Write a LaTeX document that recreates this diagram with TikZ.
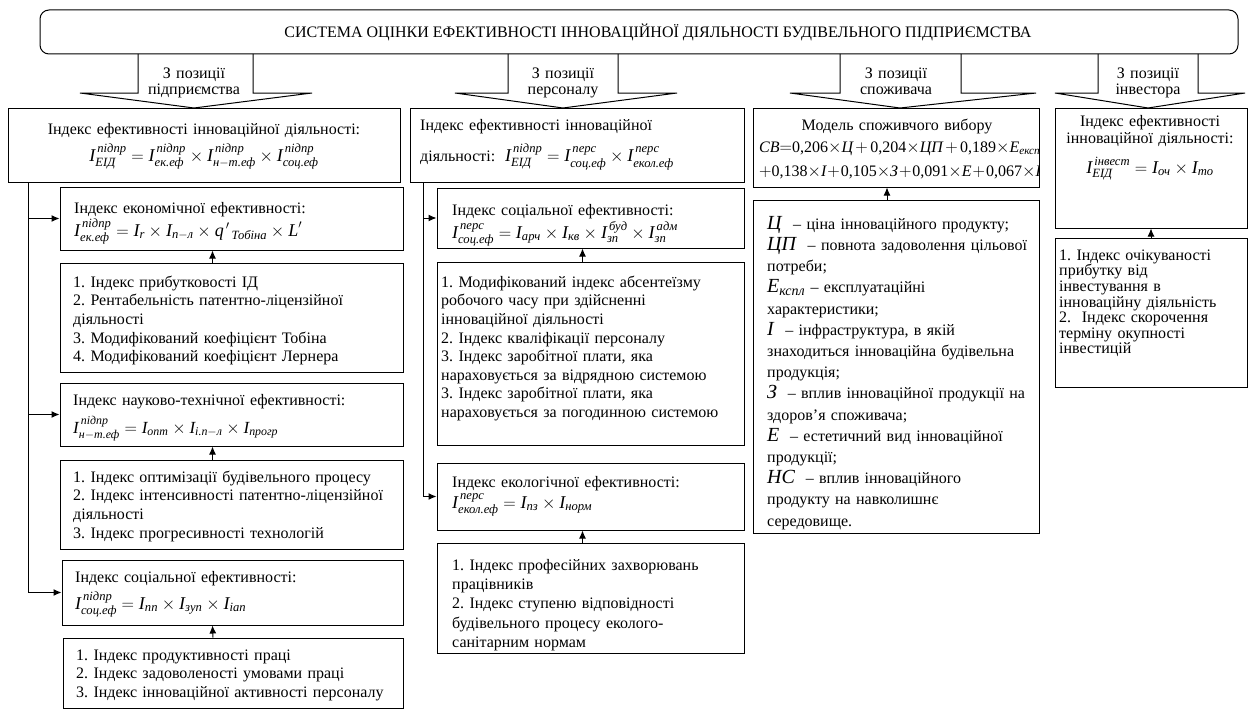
\documentclass[tikz,border=0pt]{standalone}
\usepackage{amsmath}
\usepackage{fontspec}
\setmainfont{Liberation Serif}
\usetikzlibrary{arrows.meta,fit,calc}
\newcommand{\myfs}{\fontsize{16}{18.6}\selectfont}
\newcommand{\myff}{\fontsize{18}{20}\selectfont}
\newcommand{\myfb}{\fontsize{20}{20}\selectfont}
\newcommand{\myfm}{\fontsize{16}{20}\selectfont}
\newcommand{\myti}[1]{\text{\itshape #1}}
\newcommand{\myI}{\textit{I}}
\newcommand{\mynm}[1]{\text{#1}}
\newcommand{\mypl}{\mskip2.5mu{+}\mskip2.5mu}
\newcommand{\mypn}{\mskip1mu{+}\mskip1mu}
\newcommand{\myst}{\noindent\rule{0pt}{14pt}}
\begin{document}
\frenchspacing
\begin{tikzpicture}[x=1pt,y=-1pt,
  frame/.style={draw, line width=1pt, inner sep=0pt},
  txt/.style={inner sep=0pt, anchor=north west, yshift=14pt, text width=330pt, align=left, font=\myfs, execute at begin node=\myst},
  ctxt/.style={inner sep=0pt, anchor=north, yshift=14pt, text width=420pt, align=center, font=\myfs, execute at begin node=\myst},
  atxt/.style={ctxt, font=\fontsize{16}{16.8}\selectfont},
  fml/.style={inner sep=0pt, anchor=base west, font=\myff},
  arr/.style={line width=1pt, -{Latex[length=8pt,width=7pt]}},
  blk/.style={line width=1pt, line join=miter}]
\useasboundingbox (0,0) rectangle (1248,709);
% title
\node[frame, rounded corners=9pt, fit={(40,10) (1238,54)}] (title) {};
\node[inner sep=0pt, font=\fontsize{16}{17}\selectfont] (titleT) at (658,32) {СИСТЕМА ОЦІНКИ ЕФЕКТИВНОСТІ ІННОВАЦІЙНОЇ ДІЯЛЬНОСТІ БУДІВЕЛЬНОГО ПІДПРИЄМСТВА};
% block arrows
\draw[blk] (138,54) -- (138,93) -- (80,93) -- (194,108) -- (312,93) -- (253,93) -- (253,54);
\node[atxt] (a1) at (194,78) {З позиції\\підприємства};
\draw[blk] (508,54) -- (508,93) -- (455,93) -- (563,108) -- (677,93) -- (618,93) -- (618,54);
\node[atxt] (a2) at (563,78) {З позиції\\персоналу};
\draw[blk] (840,54) -- (840,93) -- (790,93) -- (900,108) -- (1036,93) -- (961,93) -- (961,54);
\node[atxt] (a3) at (896,78) {З позиції\\споживача};
\draw[blk] (1098,54) -- (1098,93) -- (1055,93) -- (1148,108) -- (1245,93) -- (1198,93) -- (1198,54);
\node[atxt] (a4) at (1148,78) {З позиції\\інвестора};

% ---------- column 1
\node[frame, fit={(8,108) (400,182)}] (E0) {};
\node[ctxt] (E0t) at (204,134) {Індекс ефективності інноваційної діяльності:};
\node[fml, anchor=base] (E0f) at (204,161) {$\myI^{\,\myti{підпр}}_{\myti{ЕІД}} = \myI^{\,\myti{підпр}}_{\myti{ек.еф}} \times \myI^{\,\myti{підпр}}_{\myti{н}-\myti{т.еф}} \times \myI^{\,\myti{підпр}}_{\myti{соц.еф}}$};

\node[frame, fit={(60,187) (403,250)}] (econ) {};
\node[txt] (econt) at (74,213) {Індекс економічної ефективності:};
\node[fml] (econf) at (74,236) {$\myI^{\,\myti{підпр}}_{\myti{ек.еф}} = \myI_{\myti{r}} \times \myI_{\myti{п}-\myti{л}} \times \textit{q}^{\,\prime}{}_{\,\myti{Тобіна}} \times \textit{L}^{\prime}$};

\node[frame, fit={(60,263) (403,372)}] (econL) {};
\node[txt] (econLt) at (73,287) {1. Індекс прибутковості ІД\\2. Рентабельність патентно-ліцензійної\\діяльності\\3. Модифікований коефіцієнт Тобіна\\4. Модифікований коефіцієнт Лернера};

\node[frame, fit={(60,383) (403,446)}] (nt) {};
\node[txt] (ntt) at (73,405) {Індекс науково-технічної ефективності:};
\node[fml, font=\fontsize{17}{20}\selectfont] (ntf) at (73,433) {$\myI^{\,\myti{підпр}}_{\myti{н}-\myti{т.еф}} = \myI_{\myti{опт}} \times \myI_{\myti{і.п}-\myti{л}} \times \myI_{\myti{прогр}}$};

\node[frame, fit={(60,460) (403,549)}] (ntL) {};
\node[txt] (ntLt) at (73,482) {1. Індекс оптимізації будівельного процесу\\2. Індекс інтенсивності патентно-ліцензійної\\діяльності\\3. Індекс прогресивності технологій};

\node[frame, fit={(62,560) (403,625)}] (soc) {};
\node[txt] (soct) at (75,582) {Індекс соціальної ефективності:};
\node[fml] (socf) at (75,609) {$\myI^{\,\myti{підпр}}_{\myti{соц.еф}} = \myI_{\myti{пп}} \times \myI_{\myti{зуп}} \times \myI_{\myti{іап}}$};

\node[frame, fit={(63,638) (403,708)}] (socL) {};
\node[txt] (socLt) at (76,660) {1. Індекс продуктивності праці\\2. Індекс задоволеності умовами праці\\3. Індекс інноваційної активності персоналу};

\coordinate (j1) at ($(E0.south west)+(21,0)$);
\draw[arr] (j1) |- (econ.west);
\draw[arr] (j1) |- (nt.west);
\draw[arr] (j1) |- (soc.west);
\draw[arr] ($(econL.north)+(-19,0)$) -- ($(econ.south)+(-19,0)$);
\draw[arr] ($(ntL.north)+(-19,0)$) -- ($(nt.south)+(-19,0)$);
\draw[arr] ($(socL.north)+(-20,0)$) -- ($(soc.south)+(-20,0)$);

% ---------- column 2
\node[frame, fit={(410,108) (744,182)}] (P0) {};
\node[txt] (P0t) at (420,130) {Індекс ефективності інноваційної};
\node[txt] (P0b) at (420,158) {діяльності:\; {\myff$\myI^{\,\myti{підпр}}_{\myti{ЕІД}} = \myI^{\,\myti{перс}}_{\myti{соц.еф}} \times \myI^{\,\myti{перс}}_{\myti{екол.еф}}$}};

\node[frame, fit={(437,188) (744,248)}] (P1) {};
\node[txt] (P1t) at (452,215) {Індекс соціальної ефективності:};
\node[fml] (P1f) at (452,238) {$\myI^{\,\myti{перс}}_{\myti{соц.еф}} = \myI_{\myti{арч}} \times \myI_{\myti{кв}} \times \myI^{\,\myti{буд}}_{\myti{зп}} \times \myI^{\,\myti{адм}}_{\myti{зп}}$};

\node[frame, fit={(437,262) (744,445)}] (P1L) {};
\node[txt] (P1Lt) at (441,287) {1. Модифікований індекс абсентеїзму\\робочого часу при здійсненні\\інноваційної діяльності\\2. Індекс кваліфікації персоналу\\3. Індекс заробітної плати, яка\\нараховується за відрядною системою\\3. Індекс заробітної плати, яка\\нараховується за погодинною системою};

\node[frame, fit={(437,463) (744,530)}] (P2) {};
\node[txt] (P2t) at (452,487) {Індекс екологічної ефективності:};
\node[fml] (P2f) at (452,508) {$\myI^{\,\myti{перс}}_{\myti{екол.еф}} = \myI_{\myti{пз}} \times \myI_{\myti{норм}}$};

\node[frame, fit={(437,543) (744,653)}] (P2L) {};
\node[txt, font=\fontsize{16}{19.3}\selectfont] (P2Lt) at (452,570) {1. Індекс професійних захворювань\\працівників\\2. Індекс ступеню відповідності\\будівельного процесу еколого-\\санітарним нормам};

\coordinate (j2) at ($(P0.south west)+(14,0)$);
\draw[arr] (j2) |- (P1.west);
\draw[arr] (j2) |- (P2.west);
\draw[arr] ($(P1L.north)+(-8,0)$) -- ($(P1.south)+(-8,0)$);
\draw[arr] ($(P2L.north)+(-8,0)$) -- ($(P2.south)+(-8,0)$);

% ---------- column 3
\node[frame, fit={(753,108) (1039,187)}] (C0) {};
\node[ctxt] (C0t) at (897,130) {Модель споживчого вибору};
\begin{scope}
\clip (C0.north west) rectangle (C0.south east);
\node[fml, font=\myfm] (C0f1) at (759,152) {$\textit{CB}{=}\mynm{0,206}{\times}\textit{Ц}\mypl\mynm{0,204}{\times}\textit{ЦП}\mypl\mynm{0,189}{\times}\textit{E}_{\myti{експл}}$};
\node[fml, font=\myfm] (C0f2) at (759,176) {${+}\mynm{0,138}{\times}\textit{I}\mypn\mynm{0,105}{\times}\textit{З}\mypn\mynm{0,091}{\times}\textit{E}\mypn\mynm{0,067}{\times}\textit{НС}$};
\end{scope}

\node[frame, fit={(753,200) (1039,533)}] (C0L) {};
\node[txt, font=\fontsize{16}{21.2}\selectfont] (C0Lt) at (767,229) {{\myfb\textit{Ц}}~ – ціна інноваційного продукту;\\{\myfb\textit{ЦП}}~ – повнота задоволення цільової\\потреби;\\{\myfb$\textit{E}_{\myti{кспл}}$}~– експлуатаційні\\характеристики;\\{\myfb\textit{I}}~ – інфраструктура, в якій\\знаходиться інноваційна будівельна\\продукція;\\{\myfb\textit{З}}~ – вплив інноваційної продукції на\\здоров’я споживача;\\{\myfb\textit{E}}~ – естетичний вид інноваційної\\продукції;\\{\myfb\textit{НС}}~ – вплив інноваційного\\продукту на навколишнє\\середовище.};

\draw[arr] ($(C0L.north)+(-9,0)$) -- ($(C0.south)+(-9,0)$);

% ---------- column 4
\node[frame, fit={(1055,108) (1247,228)}] (V0) {};
\node[ctxt, font=\fontsize{16}{17.5}\selectfont] (V0t) at (1150,126) {Індекс ефективності\\інноваційної діяльності:};
\node[fml, anchor=base] (V0f) at (1150,173) {$\myI^{\,\myti{інвест}}_{\myti{ЕІД}} = \myI_{\myti{оч}} \times \myI_{\myti{то}}$};

\node[frame, fit={(1055,238) (1247,387)}] (V0L) {};
\node[txt, font=\fontsize{16}{15.6}\selectfont] (V0Lt) at (1059,260) {1. Індекс очікуваності\\прибутку від\\інвестування в\\інноваційну діяльність\\2.\ \ Індекс скорочення\\терміну окупності\\інвестицій};

\draw[arr] (V0L.north) -- (V0.south);
\end{tikzpicture}
\end{document}
